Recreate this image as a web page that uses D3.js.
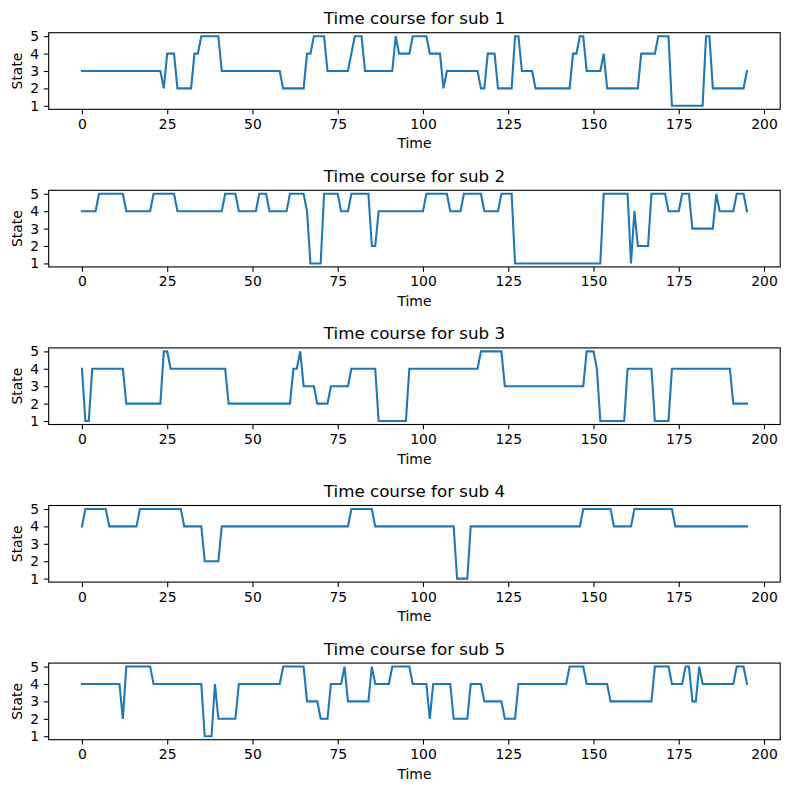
<!DOCTYPE html>
<html>
<head>
<meta charset="utf-8">
<script src="https://cdn.jsdelivr.net/npm/d3@7"></script>
<style>
    body { margin: 0; background: #fff; }
    svg text { font-family: "DejaVu Sans", sans-serif; fill: #000; }
</style>
</head>
<body>
<svg id="chart" width="790" height="790"></svg>
<script>
// state per time step, one array per subject (t = 0..195)
const sub1 = [
    3,3,3,3,3,3,3,3,3,3,3,3,3,3,3,3,3,3,3,3,
    3,3,3,3,2,4,4,4,2,2,2,2,2,4,4,5,5,5,5,5,
    5,3,3,3,3,3,3,3,3,3,3,3,3,3,3,3,3,3,3,2,
    2,2,2,2,2,2,4,4,5,5,5,5,3,3,3,3,3,3,3,4,
    5,5,5,3,3,3,3,3,3,3,3,3,5,4,4,4,4,5,5,5,
    5,5,4,4,4,4,2,3,3,3,3,3,3,3,3,3,3,2,2,4,
    4,4,2,2,2,2,2,5,5,3,3,3,3,2,2,2,2,2,2,2,
    2,2,2,2,4,4,5,5,3,3,3,3,3,4,2,2,2,2,2,2,
    2,2,2,2,4,4,4,4,4,5,5,5,5,1,1,1,1,1,1,1,
    1,1,1,5,5,2,2,2,2,2,2,2,2,2,2,3
];
const sub2 = [
    4,4,4,4,4,5,5,5,5,5,5,5,5,4,4,4,4,4,4,4,
    4,5,5,5,5,5,5,5,4,4,4,4,4,4,4,4,4,4,4,4,
    4,4,5,5,5,5,4,4,4,4,4,4,5,5,5,4,4,4,4,4,
    4,5,5,5,5,5,4,1,1,1,1,5,5,5,5,5,4,4,4,5,
    5,5,5,5,5,2,2,4,4,4,4,4,4,4,4,4,4,4,4,4,
    4,5,5,5,5,5,5,5,4,4,4,4,5,5,5,5,5,5,4,4,
    4,4,4,5,5,5,5,1,1,1,1,1,1,1,1,1,1,1,1,1,
    1,1,1,1,1,1,1,1,1,1,1,1,1,5,5,5,5,5,5,5,
    5,1,4,2,2,2,2,5,5,5,5,5,4,4,4,4,5,5,5,3,
    3,3,3,3,3,3,5,4,4,4,4,4,5,5,5,4
];
const sub3 = [
    4,1,1,4,4,4,4,4,4,4,4,4,4,2,2,2,2,2,2,2,
    2,2,2,2,5,5,4,4,4,4,4,4,4,4,4,4,4,4,4,4,
    4,4,4,2,2,2,2,2,2,2,2,2,2,2,2,2,2,2,2,2,
    2,2,4,4,5,3,3,3,3,2,2,2,2,3,3,3,3,3,3,4,
    4,4,4,4,4,4,4,1,1,1,1,1,1,1,1,1,4,4,4,4,
    4,4,4,4,4,4,4,4,4,4,4,4,4,4,4,4,4,5,5,5,
    5,5,5,5,3,3,3,3,3,3,3,3,3,3,3,3,3,3,3,3,
    3,3,3,3,3,3,3,3,5,5,5,4,1,1,1,1,1,1,1,1,
    4,4,4,4,4,4,4,4,1,1,1,1,1,4,4,4,4,4,4,4,
    4,4,4,4,4,4,4,4,4,4,4,2,2,2,2,2
];
const sub4 = [
    4,5,5,5,5,5,5,5,4,4,4,4,4,4,4,4,4,5,5,5,
    5,5,5,5,5,5,5,5,5,5,4,4,4,4,4,4,2,2,2,2,
    2,4,4,4,4,4,4,4,4,4,4,4,4,4,4,4,4,4,4,4,
    4,4,4,4,4,4,4,4,4,4,4,4,4,4,4,4,4,4,4,5,
    5,5,5,5,5,5,4,4,4,4,4,4,4,4,4,4,4,4,4,4,
    4,4,4,4,4,4,4,4,4,4,1,1,1,1,4,4,4,4,4,4,
    4,4,4,4,4,4,4,4,4,4,4,4,4,4,4,4,4,4,4,4,
    4,4,4,4,4,4,4,5,5,5,5,5,5,5,5,5,4,4,4,4,
    4,4,5,5,5,5,5,5,5,5,5,5,5,5,4,4,4,4,4,4,
    4,4,4,4,4,4,4,4,4,4,4,4,4,4,4,4
];
const sub5 = [
    4,4,4,4,4,4,4,4,4,4,4,4,2,5,5,5,5,5,5,5,
    5,4,4,4,4,4,4,4,4,4,4,4,4,4,4,4,1,1,1,4,
    2,2,2,2,2,2,4,4,4,4,4,4,4,4,4,4,4,4,4,5,
    5,5,5,5,5,5,3,3,3,3,2,2,2,4,4,4,4,5,3,3,
    3,3,3,3,3,5,4,4,4,4,4,5,5,5,5,5,5,4,4,4,
    4,4,2,4,4,4,4,4,4,2,2,2,2,2,4,4,4,4,3,3,
    3,3,3,3,2,2,2,2,4,4,4,4,4,4,4,4,4,4,4,4,
    4,4,4,5,5,5,5,5,4,4,4,4,4,4,4,3,3,3,3,3,
    3,3,3,3,3,3,3,3,5,5,5,5,5,4,4,4,4,5,5,3,
    3,5,4,4,4,4,4,4,4,4,4,4,5,5,5,4
];

const subjects = [sub1, sub2, sub3, sub4, sub5];
const titles = ["Time course for sub 1", "Time course for sub 2", "Time course for sub 3",
                "Time course for sub 4", "Time course for sub 5"];
const xTicks = [0, 25, 50, 75, 100, 125, 150, 175, 200];
const yTicks = [1, 2, 3, 4, 5];

const svg = d3.select("#chart");
const left = 48.7, right = 780.2;
const firstTop = 32.7, rowStep = 157.6, axH = 76.6;
const tickLen = 4.86, tickFont = 13.9;

const x = d3.scaleLinear().domain([-9.75, 204.75]).range([left, right]);

subjects.forEach((states, i) => {
    const top = firstTop + i * rowStep;
    const bottom = top + axH;
    const y = d3.scaleLinear().domain([0.8, 5.2]).range([bottom, top]);
    const g = svg.append("g");

    // the series
    const line = d3.line()
        .x((d, t) => x(t))
        .y(d => y(d));
    g.append("path")
        .datum(states)
        .attr("d", line)
        .attr("fill", "none")
        .attr("stroke", "#1f77b4")
        .attr("stroke-width", 2.08)
        .attr("stroke-linejoin", "miter")
        .attr("stroke-linecap", "square");

    // axes
    const xAxis = g.append("g")
        .attr("transform", `translate(0,${bottom})`)
        .call(d3.axisBottom(x).tickValues(xTicks).tickFormat(d3.format("d"))
            .tickSize(tickLen).tickPadding(4.86).tickSizeOuter(0));
    const yAxis = g.append("g")
        .attr("transform", `translate(${left},0)`)
        .call(d3.axisLeft(y).tickValues(yTicks).tickFormat(d3.format("d"))
            .tickSize(tickLen).tickPadding(4.86).tickSizeOuter(0));
    [xAxis, yAxis].forEach(a => {
        a.select(".domain").remove();
        a.selectAll("line").attr("stroke", "#000").attr("stroke-width", 1.1);
        a.selectAll("text")
            .attr("font-size", tickFont)
            .attr("font-family", "DejaVu Sans");
    });

    // spines
    g.append("rect")
        .attr("x", left)
        .attr("y", top)
        .attr("width", right - left)
        .attr("height", axH)
        .attr("fill", "none")
        .attr("stroke", "#000")
        .attr("stroke-width", 1.1);

    // title and labels
    g.append("text")
        .attr("x", (left + right) / 2)
        .attr("y", top - 8.5)
        .attr("text-anchor", "middle")
        .attr("font-size", 16.7)
        .text(titles[i]);

    g.append("text")
        .attr("x", (left + right) / 2)
        .attr("y", bottom + 39)
        .attr("text-anchor", "middle")
        .attr("font-size", tickFont)
        .text("Time");

    g.append("text")
        .attr("transform", `translate(21.5,${(top + bottom) / 2}) rotate(-90)`)
        .attr("text-anchor", "middle")
        .attr("font-size", tickFont)
        .text("State");
});
</script>
</body>
</html>
